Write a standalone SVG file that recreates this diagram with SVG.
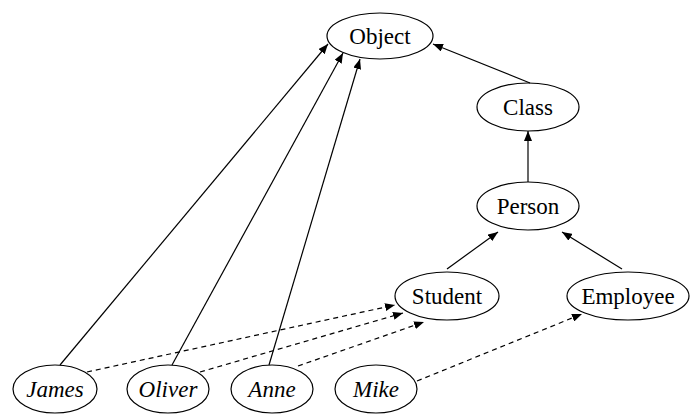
<svg xmlns="http://www.w3.org/2000/svg" width="691" height="416" viewBox="0 0 691 416">
<style>
.n ellipse{fill:none;stroke:#000;stroke-width:1.2}
.e line{stroke:#000;stroke-width:1.2}
.d line{stroke-dasharray:5,4}
</style>
<defs>
<marker id="a" viewBox="0 0 10 8" refX="10" refY="4" markerWidth="10" markerHeight="8" markerUnits="userSpaceOnUse" orient="auto">
<path d="M0,0L10,4L0,8z" fill="#000"/>
</marker>
</defs>
<g id="edges" class="e">
<line x1="530" y1="83" x2="433" y2="44" marker-end="url(#a)"/>
<line x1="528" y1="182" x2="528" y2="131" marker-end="url(#a)"/>
<line x1="447" y1="269" x2="498" y2="232" marker-end="url(#a)"/>
<line x1="622" y1="269" x2="562" y2="232" marker-end="url(#a)"/>
<line x1="60" y1="365" x2="328" y2="44" marker-end="url(#a)"/>
<line x1="172" y1="365" x2="343" y2="53" marker-end="url(#a)"/>
<line x1="269" y1="365" x2="360" y2="59" marker-end="url(#a)"/>
<g class="d">
<line x1="87" y1="372" x2="395" y2="305" marker-end="url(#a)"/>
<line x1="200" y1="372" x2="403" y2="313" marker-end="url(#a)"/>
<line x1="298" y1="366" x2="424" y2="322" marker-end="url(#a)"/>
<line x1="417" y1="381" x2="582" y2="314" marker-end="url(#a)"/>
</g>
</g>
<g id="Object" class="n"><ellipse cx="380" cy="36" rx="53" ry="23"/><text x="380" y="44" text-anchor="middle" font-family="Times New Roman" font-size="23">Object</text></g>
<g id="Class" class="n"><ellipse cx="528" cy="107" rx="51" ry="24"/><text x="528" y="115" text-anchor="middle" font-family="Times New Roman" font-size="23">Class</text></g>
<g id="Person" class="n"><ellipse cx="528" cy="206" rx="51" ry="24"/><text x="528" y="214" text-anchor="middle" font-family="Times New Roman" font-size="23">Person</text></g>
<g id="Student" class="n"><ellipse cx="447" cy="296" rx="52" ry="24"/><text x="447" y="304" text-anchor="middle" font-family="Times New Roman" font-size="23">Student</text></g>
<g id="Employee" class="n"><ellipse cx="628" cy="296" rx="61" ry="24"/><text x="628" y="304" text-anchor="middle" font-family="Times New Roman" font-size="23">Employee</text></g>
<g id="James" class="n"><ellipse cx="55" cy="389" rx="42" ry="24"/><text x="55" y="397" text-anchor="middle" font-family="Times New Roman" font-size="23" font-style="italic">James</text></g>
<g id="Oliver" class="n"><ellipse cx="168" cy="389" rx="41" ry="24"/><text x="168" y="397" text-anchor="middle" font-family="Times New Roman" font-size="23" font-style="italic">Oliver</text></g>
<g id="Anne" class="n"><ellipse cx="272" cy="389" rx="41" ry="24"/><text x="272" y="397" text-anchor="middle" font-family="Times New Roman" font-size="23" font-style="italic">Anne</text></g>
<g id="Mike" class="n"><ellipse cx="376" cy="389" rx="41" ry="24"/><text x="376" y="397" text-anchor="middle" font-family="Times New Roman" font-size="23" font-style="italic">Mike</text></g>
</svg>
